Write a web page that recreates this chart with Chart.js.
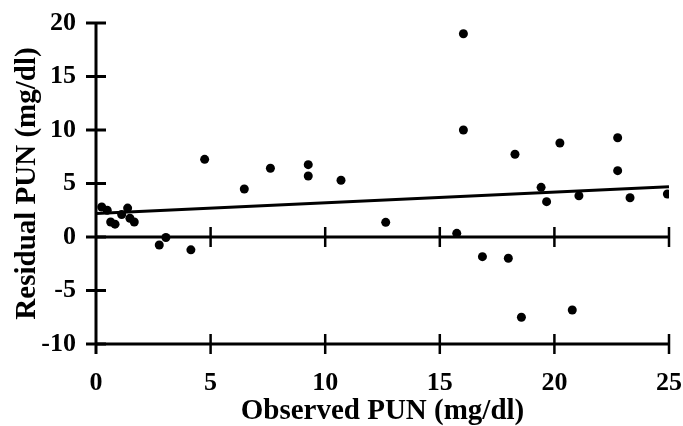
<!DOCTYPE html>
<html>
<head>
<meta charset="utf-8">
<script src="https://cdn.jsdelivr.net/npm/chart.js@4.4.0/dist/chart.umd.min.js"></script>
<style>
    html, body { margin: 0; padding: 0; background: #FFFFFF; }
    #wrap { width: 683px; height: 426px; }
</style>
</head>
<body>
<div id="wrap"><canvas id="residualChart" width="683" height="426"></canvas></div>
<script>
// Dados
const observedPun = [0.25, 0.49, 0.64, 0.83, 1.12, 1.38, 1.48, 1.67, 2.76, 3.05, 4.14,
    4.74, 6.47, 7.61, 9.26, 9.26, 10.69, 12.64,
    15.74, 16.03, 16.03, 16.86, 17.99, 18.28, 18.56, 19.42, 19.66, 20.24, 20.78,
    21.07, 22.76, 22.76, 23.3, 24.93];
const residualPun = [2.8, 2.5, 1.4, 1.2, 2.1, 2.7, 1.75, 1.4, -0.75, -0.05, -1.2,
    7.26, 4.49, 6.42, 6.76, 5.7, 5.3, 1.37,
    0.34, 19.0, 10.0, -1.84, -1.99, 7.73, -7.5, 4.64, 3.3, 8.79, -6.82,
    3.86, 9.28, 6.2, 3.67, 4.02];

// Linha de regressão
const fitX = [0, 25];
const fitY = [2.2, 4.7];

// Ticks
const xTicks = [0, 5, 10, 15, 20, 25];
const yTicks = [-10, -5, 0, 5, 10, 15, 20];

const ink = '#000000';
const serif = "'Liberation Serif', 'DejaVu Serif', serif";

// Desenha os eixos no estilo da figura (ticks cruzando as linhas)
const axisFrame = {
    id: 'axisFrame',
    beforeDatasetsDraw(chart) {
        const { ctx, scales: { x, y } } = chart;
        const x0 = x.getPixelForValue(0);
        const xEnd = x.getPixelForValue(xTicks[xTicks.length - 1]);
        const yTop = y.getPixelForValue(yTicks[yTicks.length - 1]);
        const yZero = y.getPixelForValue(0);
        const yBottom = y.getPixelForValue(yTicks[0]);

        ctx.save();
        ctx.strokeStyle = ink;
        ctx.lineCap = 'butt';

        // eixo vertical
        ctx.lineWidth = 3;
        ctx.beginPath();
        ctx.moveTo(x0, yTop - 1);
        ctx.lineTo(x0, yBottom + 10);
        ctx.stroke();

        // ticks do eixo y
        yTicks.forEach(v => {
            const py = y.getPixelForValue(v);
            ctx.beginPath();
            ctx.moveTo(x0 - 10, py);
            ctx.lineTo(x0 + 10, py);
            ctx.stroke();
        });

        // linhas horizontais em 0 e -10
        [yZero, yBottom].forEach(py => {
            ctx.lineWidth = 3;
            ctx.beginPath();
            ctx.moveTo(x0, py);
            ctx.lineTo(xEnd, py);
            ctx.stroke();
            ctx.lineWidth = 2.5;
            xTicks.slice(1).forEach(v => {
                const px = x.getPixelForValue(v);
                ctx.beginPath();
                ctx.moveTo(px, py - 10);
                ctx.lineTo(px, py + 10);
                ctx.stroke();
            });
        });
        ctx.restore();
    }
};

const ctx = document.getElementById('residualChart').getContext('2d');
const residualChart = new Chart(ctx, {
    type: 'scatter',
    data: {
        datasets: [
            {
                label: 'Residual PUN',
                data: observedPun.map((v, i) => ({ x: v, y: residualPun[i] })),
                backgroundColor: ink,
                borderColor: ink,
                pointRadius: 4.5,
                pointBorderWidth: 0,
                order: 1
            },
            {
                label: 'Regressão',
                type: 'line',
                data: fitX.map((v, i) => ({ x: v, y: fitY[i] })),
                borderColor: ink,
                borderWidth: 3,
                pointRadius: 0,
                fill: false,
                order: 2
            }
        ]
    },
    options: {
        responsive: false,
        animation: false,
        layout: {
            padding: { top: 23, right: 14, bottom: 0, left: 0 }
        },
        plugins: {
            legend: { display: false },
            tooltip: { enabled: false }
        },
        scales: {
            x: {
                type: 'linear',
                min: 0,
                max: 25,
                afterFit: scale => {
                    scale.height = 82;
                    scale.paddingLeft = 0;
                    scale.paddingRight = 0;
                },
                afterBuildTicks: scale => { scale.ticks = xTicks.map(v => ({ value: v })); },
                grid: { display: false, drawTicks: false },
                border: { display: false },
                ticks: {
                    color: ink,
                    padding: 24,
                    maxRotation: 0,
                    autoSkip: false,
                    font: { family: serif, size: 26, weight: 'bold' }
                },
                title: {
                    display: true,
                    text: 'Observed PUN (mg/dl)',
                    color: ink,
                    padding: { top: 0, bottom: 0 },
                    font: { family: serif, size: 29, weight: 'bold', lineHeight: 1 }
                }
            },
            y: {
                type: 'linear',
                min: -10,
                max: 20,
                afterFit: scale => {
                    scale.width = 96;
                    scale.paddingTop = 0;
                    scale.paddingBottom = 0;
                },
                afterBuildTicks: scale => { scale.ticks = yTicks.map(v => ({ value: v })); },
                grid: { display: false, drawTicks: false },
                border: { display: false },
                ticks: {
                    color: ink,
                    padding: 20,
                    autoSkip: false,
                    font: { family: serif, size: 26, weight: 'bold' }
                },
                title: {
                    display: true,
                    text: 'Residual PUN (mg/dl)',
                    color: ink,
                    padding: { top: 13, bottom: 0 },
                    font: { family: serif, size: 29, weight: 'bold', lineHeight: 1 }
                }
            }
        }
    },
    plugins: [axisFrame]
});
</script>
</body>
</html>
